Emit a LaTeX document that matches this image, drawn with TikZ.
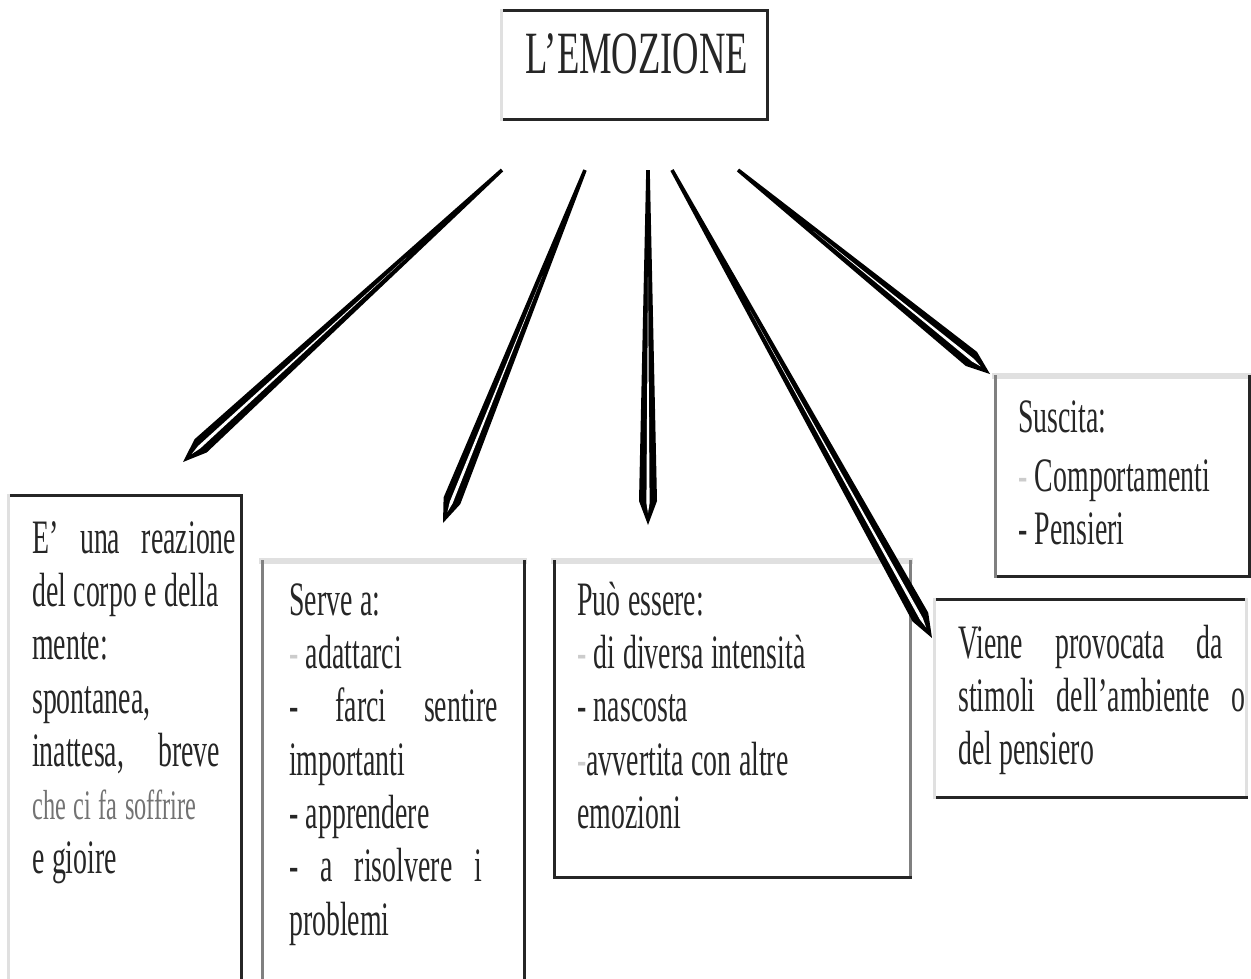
\documentclass[tikz,border=0pt]{standalone}
\usepackage{fontspec}
\setmainfont{Liberation Serif}
\newfontfamily\bodyfont[FakeStretch=0.58]{Liberation Serif}
\newfontfamily\titlefont[FakeStretch=0.61]{Liberation Serif}
\usetikzlibrary{positioning,calc}

% justified line of a given width (gaps marked with \hfill)
\newcommand\jline[2]{\leavevmode\hbox to #1{#2}}
\newcommand\topstrut{\lineskiplimit=-20pt\relax
  \spaceskip=7.5pt plus 3pt minus 1pt\relax
  \xspaceskip=8pt plus 3pt\relax
  \rule{0pt}{40pt}}
\newcommand\fdash{{\color{black!20}-}}

% four sides of a frame, each with its own shade
\newcommand\sides[5]{%
  \draw[edge,#2] (#1.north west) -- (#1.north east);
  \draw[edge,#3] (#1.north east) -- (#1.south east);
  \draw[edge,#4] (#1.south east) -- (#1.south west);
  \draw[edge,#5] (#1.south west) -- (#1.north west);
}

% tapered double spike from #1 to #2
\newcommand\spike[2]{%
  \coordinate (sb) at ($(#2)!24pt!(#1)$);
  \coordinate (wb) at ($(#2)!22pt!(#1)$);
  \fill[black] ($(#1)!1.8pt!90:(#2)$) -- ($(sb)!9pt!-90:(#1)$) -- (#2)
    -- ($(sb)!9pt!90:(#1)$) -- ($(#1)!1.8pt!-90:(#2)$) -- cycle;
  \fill[white] ($(#1)!0.3!(#2)$) -- ($(wb)!1.6pt!-90:(#1)$) -- ($(#2)!12pt!(#1)$)
    -- ($(wb)!1.6pt!90:(#1)$) -- cycle;
}

\begin{document}
\begin{tikzpicture}[
  x=1pt, y=-1pt,
  frame/.style={anchor=north west, inner sep=0pt, outer sep=0pt},
  txt/.style={anchor=north west, inner sep=0pt, align=left, text=black!85,
    font=\bodyfont\fontsize{48}{53.3}\selectfont},
  edge/.style={line width=3pt, line cap=rect},
  dark/.style={draw=black!85},
  mid/.style={draw=black!50},
  light/.style={draw=black!12},
]
\useasboundingbox (0,0) rectangle (1251,978);
\fill[white] (0,0) rectangle (1251,978);
\clip (0,0) rectangle (1251,978);

% ---------------- frames ----------------
\node[frame, minimum width=266pt, minimum height=109pt] (title) at (501,10) {};
\node[frame, minimum width=233pt, minimum height=530pt] (b1) at (8,495) {};
\node[frame, minimum width=262pt, minimum height=470pt] (b2) at (262,561) {};
\node[frame, minimum width=356pt, minimum height=316pt] (b3) at (554,561) {};
\node[frame, minimum width=254pt, minimum height=200pt] (b4) at (995,376) {};
\node[frame, minimum width=312pt, minimum height=198pt] (b5) at (934,599) {};

\sides{title}{dark}{dark}{dark}{light}
\sides{b1}{dark}{dark}{dark}{light}
\sides{b2}{light, line width=6pt}{dark}{dark}{mid}
\sides{b3}{light, line width=6pt}{mid}{dark}{dark}
\sides{b4}{light, line width=6pt}{dark}{dark}{mid}
\sides{b5}{dark}{light}{dark}{light}

% ---------------- texts ----------------
\node[anchor=base, text=black!85, font=\titlefont\fontsize{60}{60}\selectfont] (ttl)
  at ([xshift=3pt, yshift=-63pt]title.north) {L’EMOZIONE};

\node[txt, text width=215pt] (t1) at ([xshift=24pt, yshift=-18pt]b1.north west)
  {\topstrut\jline{204pt}{E’\hfill una\hfill reazione}\\
   del corpo e della\\
   mente:\\
   spontanea,\\
   \jline{188pt}{inattesa,\hfill breve}\\
   {\color{black!55}\fontsize{42}{53.3}\selectfont che ci fa soffrire}\\
   e gioire};

\node[txt, text width=215pt] (t2) at ([xshift=27pt, yshift=-14pt]b2.north west)
  {\topstrut Serve a:\\
   \fdash{} adattarci\\
   \jline{209pt}{-\hfill farci\hfill sentire}\\
   importanti\\
   - apprendere\\
   \jline{193pt}{-\hfill a\hfill risolvere\hfill i}\\
   problemi};

\node[txt, text width=300pt] (t3) at ([xshift=23pt, yshift=-14pt]b3.north west)
  {\topstrut Può essere:\\
   \fdash{} di diversa intensità\\
   - nascosta\\
   \fdash avvertita con altre\\
   emozioni};

\node[txt, text width=220pt] (t4) at ([xshift=23pt, yshift=-16pt]b4.north west)
  {\topstrut Suscita:\\[6pt]
   \fdash{} Comportamenti\\
   - Pensieri};

\node[txt, text width=290pt] (t5) at ([xshift=24pt, yshift=-19pt]b5.north west)
  {\topstrut\jline{265pt}{Viene\hfill provocata\hfill da}\\
   \jline{287pt}{stimoli\hfill dell’ambiente\hfill o}\\
   del pensiero};

% ---------------- spikes ----------------
\coordinate (s1) at (502,170);
\coordinate (s2) at (585,170);
\coordinate (s3) at (648,170);
\coordinate (s4) at (672,170);
\coordinate (s5) at (738,170);
\coordinate (e1) at ([xshift=175pt, yshift=33pt]b1.north west);
\coordinate (e2) at ([xshift=181pt, yshift=38pt]b2.north west);
\coordinate (e3) at ([xshift=94pt, yshift=36pt]b3.north west);
\coordinate (e4) at ([xshift=-2pt, yshift=-39pt]b5.north west);
\coordinate (e5) at ([xshift=-5pt, yshift=2pt]b4.north west);

\spike{s1}{e1}
\spike{s2}{e2}
\spike{s3}{e3}
\spike{s4}{e4}
\spike{s5}{e5}

\end{tikzpicture}
\end{document}
